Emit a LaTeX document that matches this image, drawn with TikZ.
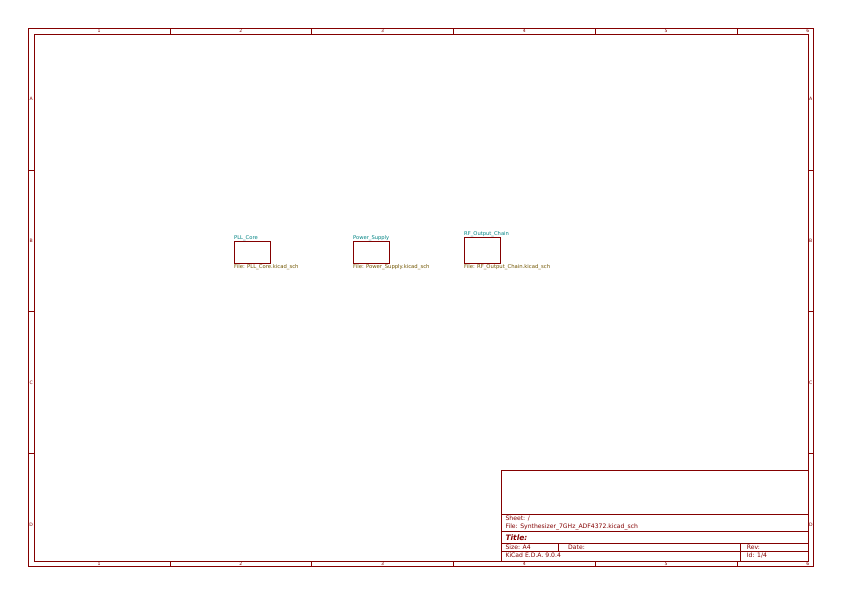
\documentclass[tikz,border=0pt]{standalone}
\usepackage{fontspec}
\setmainfont{DejaVu Sans}
\definecolor{kired}{RGB}{132,0,0}
\definecolor{kiteal}{RGB}{0,132,132}
\definecolor{kiolive}{RGB}{114,86,0}
\begin{document}
\begin{tikzpicture}[x=1pt,y=-1pt,
  frame/.style={draw=kired,line width=0.9pt},
  tick/.style={draw=kired,line width=0.9pt},
  gridlbl/.style={text=kired,font=\fontsize{4.6}{4.6}\selectfont,inner sep=0pt,anchor=center},
  tbtext/.style={text=kired,font=\fontsize{6.1}{6.1}\selectfont,inner sep=0pt,anchor=base west},
  sheetbox/.style={draw=kired,line width=1pt},
  sheetname/.style={text=kiteal,font=\fontsize{5.2}{5.2}\selectfont,inner sep=0pt,anchor=base west},
  sheetfile/.style={text=kiolive,font=\fontsize{5.3}{5.3}\selectfont,inner sep=0pt,anchor=base west}]
\useasboundingbox (0,0) rectangle (842,595);
\fill[white] (0,0) rectangle (842,595);
% borders
\coordinate (o1) at (28.35,28.35);
\coordinate (o2) at (813.6,566.6);
\coordinate (i1) at (34,34);
\coordinate (i2) at (808,561);
\draw[frame] (o1) rectangle (o2);
\draw[frame] (i1) rectangle (i2);
% column ticks
\foreach \x in {170.1,311.8,453.5,595.3,737.0}{
  \draw[tick] (\x,28.35) -- (\x,34);
  \draw[tick] (\x,561) -- (\x,566.6);
}
\foreach \y in {170.1,311.8,453.5}{
  \draw[tick] (28.35,\y) -- (34,\y);
  \draw[tick] (808,\y) -- (813.6,\y);
}
\foreach \x/\l [count=\i] in {99.2/1,240.9/2,382.7/3,524.4/4,666.1/5,807.9/6}{
  \node[gridlbl] (ct\i) at (\x,31.2) {\l};
  \node[gridlbl] (cb\i) at (\x,563.8) {\l};
}
\foreach \y/\l [count=\i] in {99.2/A,240.9/B,382.7/C,524.4/D}{
  \node[gridlbl] (rl\i) at (31.2,\y) {\l};
  \node[gridlbl] (rr\i) at (810.8,\y) {\l};
}
% title block
\draw[frame] (501.5,470) rectangle (808,561);
\draw[frame] (501.5,514.5) -- (808,514.5);
\draw[frame] (501.5,531.8) -- (808,531.8);
\draw[frame] (501.5,543.3) -- (808,543.3);
\draw[frame] (501.5,551) -- (808,551);
\draw[frame] (558.3,543.3) -- (558.3,551);
\draw[frame] (740.3,543.3) -- (740.3,561);
\node[tbtext] (tsheet) at (505.3,520.8) {Sheet: /};
\node[tbtext] (tfile) at (505.3,528.8) {File: Synthesizer\_7GHz\_ADF4372.kicad\_sch};
\node[tbtext,font=\fontsize{7.5}{7.5}\selectfont\bfseries\itshape] (ttitle) at (505.3,540) {Title:};
\node[tbtext] (tsize) at (505.3,549.6) {Size: A4};
\node[tbtext] (tdate) at (568,549.6) {Date:};
\node[tbtext] (trev) at (746.7,549.6) {Rev:};
\node[tbtext] (tkicad) at (505.3,557.9) {KiCad E.D.A. 9.0.4};
\node[tbtext] (tid) at (746.7,557.9) {Id: 1/4};
% hierarchical sheets
\draw[sheetbox] (234,241.3) rectangle (270.7,263.3);
\node[sheetname] (n1) at (234,239.2) {PLL\_Core};
\node[sheetfile] (f1) at (234,268.8) {File: PLL\_Core.kicad\_sch};
\draw[sheetbox] (353,241.3) rectangle (389.3,263.3);
\node[sheetname] (n2) at (353,239.2) {Power\_Supply};
\node[sheetfile] (f2) at (353,268.8) {File: Power\_Supply.kicad\_sch};
\draw[sheetbox] (464,237.3) rectangle (500.7,263.3);
\node[sheetname] (n3) at (464,235.2) {RF\_Output\_Chain};
\node[sheetfile] (f3) at (464,268.8) {File: RF\_Output\_Chain.kicad\_sch};
\end{tikzpicture}
\end{document}
